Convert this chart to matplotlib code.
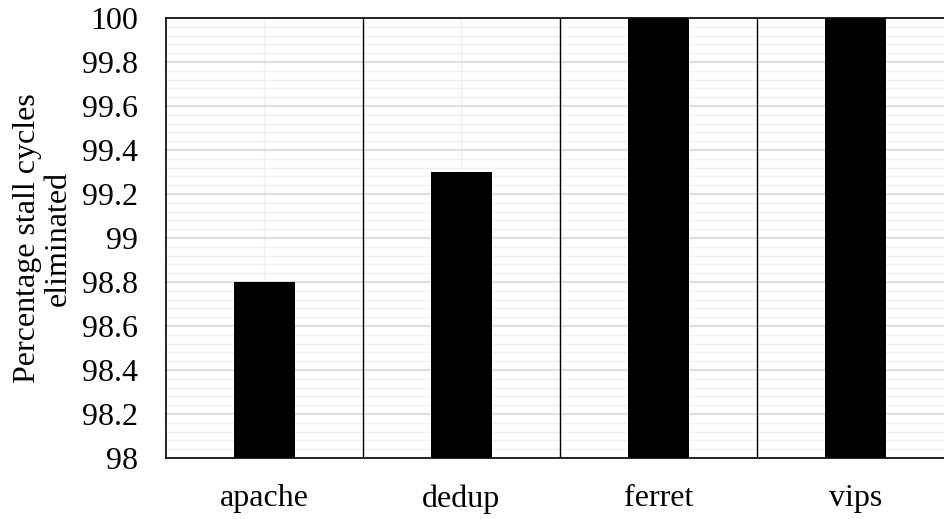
import numpy as np
import matplotlib.pyplot as plt
from matplotlib.ticker import MultipleLocator

benchmarks = ['apache', 'dedup', 'ferret', 'vips']
eliminated = [98.8, 99.3, 100.0, 100.0]
ytick_vals = [98, 98.2, 98.4, 98.6, 98.8, 99, 99.2, 99.4, 99.6, 99.8, 100]
ytick_labels = ['98', '98.2', '98.4', '98.6', '98.8', '99', '99.2',
                '99.4', '99.6', '99.8', '100']

plt.rcParams['font.family'] = 'Liberation Serif'

fig = plt.figure(figsize=(9.45, 5.19), dpi=100)
ax = fig.add_axes([166 / 945, 61 / 519, 788 / 945, 440 / 519])

x = np.arange(len(benchmarks))
ax.bar(x, eliminated, width=0.31, color='black', zorder=3)

ax.set_xlim(-0.5, len(benchmarks) - 0.5)
ax.set_ylim(98, 100)
ax.yaxis.set_minor_locator(MultipleLocator(0.04))
ax.set_yticks(ytick_vals)
ax.set_yticklabels(ytick_labels)
ax.set_xticks(x)
ax.set_xticklabels(benchmarks)

# light grid behind the bars, black separators between benchmarks
ax.grid(axis='y', which='major', color='#d9d9d9', linewidth=1.2, zorder=0)
ax.grid(axis='y', which='minor', color='#f0f0f0', linewidth=1.0, zorder=0)
ax.grid(axis='x', which='major', color='#f0f0f0', linewidth=1.0, zorder=0)
for sep in x[:-1] + 0.5:
    ax.axvline(sep, color='black', linewidth=1.0, zorder=2)

ax.tick_params(axis='both', which='both', length=0, labelsize=23)
ax.tick_params(axis='y', pad=20)
ax.tick_params(axis='x', pad=19)
for s in ax.spines.values():
    s.set_color('black')
    s.set_linewidth(1.2)

ax.set_ylabel('Percentage stall cycles\neliminated', fontsize=23, linespacing=1.05,
              labelpad=7)

fig.savefig('out.png', dpi=100)
